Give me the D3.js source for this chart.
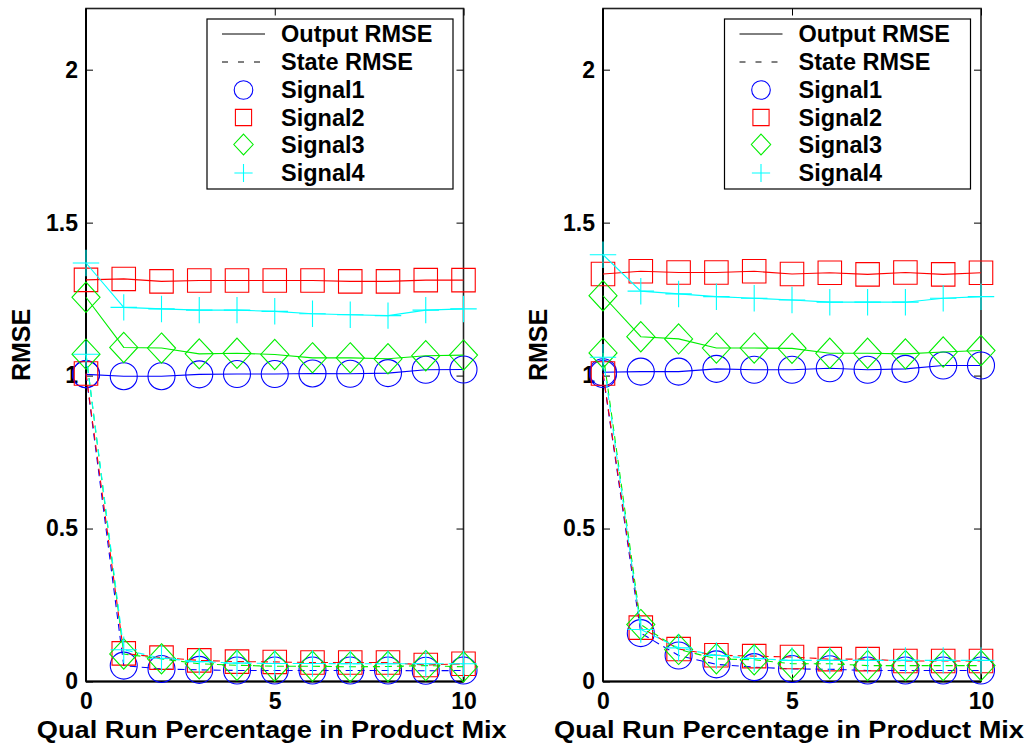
<!DOCTYPE html>
<html>
<head>
<meta charset="utf-8">
<script src="https://cdn.jsdelivr.net/npm/d3@7"></script>
<style>
  html, body { margin: 0; padding: 0; background: #fff; }
  svg { display: block; }
  text { font-family: "Liberation Sans", Arial, Helvetica, sans-serif; font-weight: bold; fill: #000; }
</style>
</head>
<body>
<svg id="fig" width="1031" height="747"></svg>
<script>
// Qual run percentage (x values shared by every series)
const qualPct = [0, 1, 2, 3, 4, 5, 6, 7, 8, 9, 10];

const signalNames = ["Signal1", "Signal2", "Signal3", "Signal4"];
const signalColors = ["#0000ff", "#ff0000", "#00ee00", "#00ffff"];
const signalSymbols = ["circle", "square", "diamond", "plus"];

const xTicks = [0, 5, 10];
const yTicks = [0, 0.5, 1, 1.5, 2];

// Left panel: output RMSE per signal
const outA1 = [1.004, 0.998, 0.998, 1.004, 1.005, 1.005, 1.007, 1.006, 1.008, 1.019, 1.020];
const outA2 = [1.313, 1.316, 1.308, 1.311, 1.311, 1.311, 1.311, 1.308, 1.308, 1.312, 1.312];
const outA3 = [1.256, 1.092, 1.090, 1.071, 1.073, 1.069, 1.058, 1.058, 1.055, 1.065, 1.067];
const outA4 = [1.368, 1.223, 1.218, 1.214, 1.214, 1.210, 1.202, 1.199, 1.196, 1.214, 1.218];
// Left panel: state RMSE per signal
const stA1 = [1.005, 0.052, 0.041, 0.038, 0.036, 0.036, 0.036, 0.036, 0.036, 0.035, 0.036];
const stA2 = [1.007, 0.092, 0.078, 0.069, 0.065, 0.064, 0.062, 0.062, 0.062, 0.054, 0.058];
const stA3 = [1.070, 0.090, 0.074, 0.058, 0.053, 0.050, 0.050, 0.048, 0.049, 0.052, 0.048];
const stA4 = [1.070, 0.104, 0.076, 0.065, 0.060, 0.059, 0.059, 0.058, 0.058, 0.058, 0.058];

// Right panel: output RMSE per signal
const outB1 = [1.011, 1.013, 1.013, 1.022, 1.019, 1.019, 1.024, 1.019, 1.022, 1.033, 1.033];
const outB2 = [1.332, 1.341, 1.337, 1.337, 1.341, 1.332, 1.336, 1.331, 1.337, 1.331, 1.336];
const outB3 = [1.261, 1.127, 1.120, 1.090, 1.090, 1.089, 1.073, 1.073, 1.071, 1.077, 1.082];
const outB4 = [1.395, 1.276, 1.267, 1.258, 1.253, 1.247, 1.240, 1.240, 1.240, 1.253, 1.258];
// Right panel: state RMSE per signal
const stB1 = [1.005, 0.158, 0.085, 0.056, 0.047, 0.041, 0.040, 0.036, 0.036, 0.036, 0.036];
const stB2 = [1.007, 0.176, 0.106, 0.086, 0.083, 0.080, 0.073, 0.073, 0.067, 0.067, 0.067];
const stB3 = [1.074, 0.186, 0.105, 0.074, 0.071, 0.058, 0.058, 0.052, 0.052, 0.052, 0.052];
const stB4 = [1.060, 0.170, 0.110, 0.085, 0.075, 0.069, 0.069, 0.069, 0.069, 0.069, 0.069];

const legendLabels = ["Output RMSE", "State RMSE"];

const panels = [
  { left: 86, right: 463.5, output: [outA1, outA2, outA3, outA4], state: [stA1, stA2, stA3, stA4] },
  { left: 603, right: 981, output: [outB1, outB2, outB3, outB4], state: [stB1, stB2, stB3, stB4] }
];

const svg = d3.select("#fig");
const plotTop = 8.5, plotBottom = 681.5;

// Path for a marker symbol centred on (0,0)
function symbolPath(kind, s) {
  const p = d3.path();
  if (kind === "circle") {
    p.moveTo(s, 0); p.arc(0, 0, s, 0, 2 * Math.PI);
  } else if (kind === "square") {
    const h = s * 0.87;
    p.rect(-h, -h, 2 * h, 2 * h);
  } else if (kind === "diamond") {
    const w = s * 1.04, h = s * 1.12;
    p.moveTo(0, -h); p.lineTo(w, 0); p.lineTo(0, h); p.lineTo(-w, 0); p.closePath();
  } else {
    const h = s * 0.98;
    p.moveTo(-h, 0); p.lineTo(h, 0); p.moveTo(0, -h); p.lineTo(0, h);
  }
  return p.toString();
}

panels.forEach(panel => {
  const x = d3.scaleLinear().domain([0, 10]).range([panel.left, panel.right]);
  const y = d3.scaleLinear().domain([0, 2.2]).range([plotBottom, plotTop]);
  const g = svg.append("g");

  // frame
  g.append("rect")
    .attr("x", x(0)).attr("y", y(2.2))
    .attr("width", x(10) - x(0)).attr("height", y(0) - y(2.2))
    .attr("fill", "none").attr("stroke", "#222").attr("stroke-width", 1.6);
  g.append("line").attr("x1", x(0)).attr("x2", x(0)).attr("y1", y(2.2)).attr("y2", y(0))
    .attr("stroke", "#000").attr("stroke-width", 2);
  g.append("line").attr("x1", x(0)).attr("x2", x(10)).attr("y1", y(0)).attr("y2", y(0))
    .attr("stroke", "#000").attr("stroke-width", 2);

  // axes with inward ticks on all four sides
  const yAxisL = d3.axisLeft(y).tickValues(yTicks).tickSize(-7).tickPadding(8)
    .tickFormat(d3.format("~g"));
  const yAxisR = d3.axisRight(y).tickValues(yTicks).tickSize(-7).tickFormat("");
  const xAxisB = d3.axisBottom(x).tickValues(xTicks).tickSize(-7).tickPadding(11)
    .tickFormat(d3.format("~g"));
  const xAxisT = d3.axisTop(x).tickValues(xTicks).tickSize(-7).tickFormat("");

  [[yAxisL, `translate(${x(0)},0)`], [yAxisR, `translate(${x(10)},0)`],
   [xAxisB, `translate(0,${y(0)})`], [xAxisT, `translate(0,${y(2.2)})`]].forEach(([ax, tr]) => {
    const a = g.append("g").attr("transform", tr).call(ax);
    a.select(".domain").remove();
    a.selectAll(".tick line").attr("stroke", "#000").attr("stroke-width", 1);
    a.selectAll(".tick text")
      .style("font-family", '"Liberation Sans", Arial, sans-serif')
      .style("font-weight", "bold").style("font-size", "23px").attr("fill", "#000");
  });

  // series: output lines solid, state lines dashed, markers at every point
  const line = d3.line().x((d, i) => x(qualPct[i])).y(d => y(d));
  const markerSize = 13.5;
  signalNames.forEach((name, k) => {
    [[panel.output[k], null], [panel.state[k], "7,5"]].forEach(([vals, dash]) => {
      g.append("path").attr("d", line(vals))
        .attr("fill", "none").attr("stroke", signalColors[k]).attr("stroke-width", 1.1)
        .attr("stroke-dasharray", dash);
      g.selectAll(null).data(vals).enter().append("path")
        .attr("transform", (d, i) => `translate(${x(qualPct[i])},${y(d)})`)
        .attr("d", symbolPath(signalSymbols[k], markerSize))
        .attr("fill", "none").attr("stroke", signalColors[k]).attr("stroke-width", 1.1);
    });
  });

  // axis titles
  g.append("text")
    .attr("x", (x(0) + x(10)) / 2 - 3).attr("y", 738)
    .attr("text-anchor", "middle").style("font-size", "24px")
    .attr("textLength", 470).attr("lengthAdjust", "spacingAndGlyphs")
    .text("Qual Run Percentage in Product Mix");
  g.append("text")
    .attr("transform", `translate(${x(0) - 56},${(y(0) + y(2.2)) / 2}) rotate(-90)`)
    .attr("text-anchor", "middle").style("font-size", "25px")
    .text("RMSE");

  // legend
  const lx = x(10) - 256.5, ly = 19;
  const lg = g.append("g").attr("transform", `translate(${lx},${ly})`);
  lg.append("rect").attr("width", 246).attr("height", 170)
    .attr("fill", "#fff").attr("stroke", "#000").attr("stroke-width", 1.2);
  const rowY = [15, 43, 71, 98.5, 125.5, 154];
  legendLabels.forEach((lab, i) => {
    lg.append("line").attr("x1", 15).attr("x2", 58).attr("y1", rowY[i]).attr("y2", rowY[i])
      .attr("stroke", "#000").attr("stroke-width", 1)
      .attr("stroke-dasharray", i === 1 ? "6,10" : null);
    lg.append("text").attr("x", 74).attr("y", rowY[i] + 8).style("font-size", "23.5px").text(lab);
  });
  signalNames.forEach((name, k) => {
    const cy = rowY[k + 2];
    lg.append("path").attr("transform", `translate(36.5,${cy})`)
      .attr("d", symbolPath(signalSymbols[k], 9.3))
      .attr("fill", "none").attr("stroke", signalColors[k]).attr("stroke-width", 1.1);
    lg.append("text").attr("x", 74).attr("y", cy + 8).style("font-size", "23.5px").text(name);
  });
});
</script>
</body>
</html>
